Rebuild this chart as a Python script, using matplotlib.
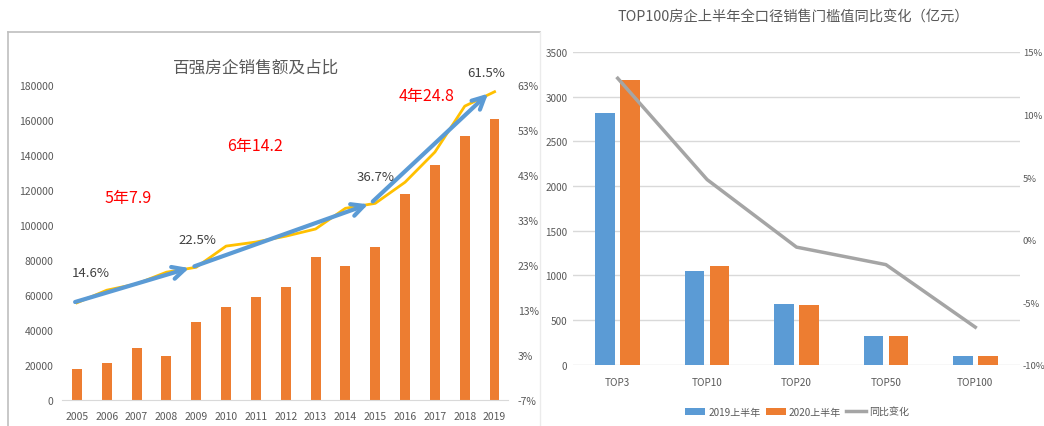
import numpy as np
import matplotlib
matplotlib.use("Agg")
import matplotlib.pyplot as plt
from matplotlib.lines import Line2D

plt.rcParams['font.family'] = ['Noto Sans CJK SC', 'DejaVu Sans']

# 左图：百强房企销售额及占比
years = list(range(2005, 2020))
sales = [17700, 21000, 29900, 25100, 44400, 53000, 59000, 64400,
         81500, 76400, 87600, 117700, 134300, 150700, 160600]
share = [14.6, 17.4, 18.8, 21.4, 22.5, 27.2, 28.1, 29.4,
         31.0, 35.6, 36.7, 41.4, 48.1, 58.3, 61.5]
share_labels = {2005: "14.6%", 2009: "22.5%", 2015: "36.7%", 2019: "61.5%"}
stage_idx = [0, 4, 10, 14]
stage_text = ["5年7.9", "6年14.2", "4年24.8"]

# 右图：TOP门槛值
cats = ["TOP3", "TOP10", "TOP20", "TOP50", "TOP100"]
h2019 = [2820, 1054, 680, 318, 101]
h2020 = [3190, 1106, 672, 318, 100]
yoy = [12.9, 4.8, -0.6, -2.0, -7.0]

BLUE = '#5B9BD5'
ORANGE = '#ED7D31'
GRAY = '#A5A5A5'
TXT = '#595959'

W, H = 1044, 427
fig = plt.figure(figsize=(W / 100, H / 100), dpi=100)

# ---------- 左图 ----------
ax1 = fig.add_axes([62 / W, (H - 401) / H, 446 / W, 315 / H])
ax1.bar(years, sales, width=0.33, color=ORANGE)
ax1.set_xlim(2004.5, 2019.45)
ax1.set_ylim(0, 180000)
ax1.set_yticks(range(0, 180001, 20000))
ax1.set_xticks(years)
for s in ['top', 'right', 'left']:
    ax1.spines[s].set_visible(False)
ax1.spines['bottom'].set_color('#D9D9D9')
ax1.tick_params(length=0, colors=TXT, labelsize=7.5)
ax1.tick_params(axis='y', pad=6)
ax1.tick_params(axis='x', pad=8)

ax1b = ax1.twinx()
ax1b.plot(years, share, color='#FFC000', lw=2)
ax1b.set_ylim(-7, 63)
pticks = list(range(-7, 64, 10))
ax1b.set_yticks(pticks)
ax1b.set_yticklabels([f"{v}%" for v in pticks])
for s in ax1b.spines.values():
    s.set_visible(False)
ax1b.tick_params(length=0, colors=TXT, labelsize=7.5, pad=7)

# 蓝色阶段箭头
for a, b in zip(stage_idx[:-1], stage_idx[1:]):
    ax1b.annotate("", xy=(years[b] - 0.15, share[b]), xytext=(years[a] - 0.15, share[a]),
                  arrowprops=dict(arrowstyle='->', lw=3, color=BLUE, mutation_scale=22))
label_off = [(10, 22), (1, 20), (0, 19), (-6, 14)]
for (y, t), off in zip(share_labels.items(), label_off):
    i = years.index(y)
    ax1b.annotate(t, (y, share[i]), xytext=off, textcoords='offset points',
                  ha='center', va='center', fontsize=9.5, color='#404040')

fig.text(128 / W, 1 - 198 / H, stage_text[0], color='red', fontsize=11.5, ha='center', va='center')
fig.text(255 / W, 1 - 147 / H, stage_text[1], color='red', fontsize=11.5, ha='center', va='center')
fig.text(427 / W, 1 - 96 / H, stage_text[2], color='red', fontsize=11.5, ha='center', va='center')
fig.text(256 / W, 1 - 68 / H, "百强房企销售额及占比", color=TXT, fontsize=12, ha='center', va='center')

# 左图边框
fig.add_artist(Line2D([8 / W, 8 / W], [0, 1 - 33 / H], transform=fig.transFigure, color='#BFBFBF', lw=1.2))
fig.add_artist(Line2D([8 / W, 540 / W], [1 - 33 / H, 1 - 33 / H], transform=fig.transFigure, color='#BFBFBF', lw=1.2))
fig.add_artist(Line2D([540 / W, 540 / W], [0, 1 - 33 / H], transform=fig.transFigure, color='#EBEBEB', lw=1))

# ---------- 右图 ----------
ax2 = fig.add_axes([573 / W, (H - 365.7) / H, 447 / W, 312.7 / H])
x = np.arange(len(cats))
ax2.bar(x - 0.14, h2019, width=0.22, color=BLUE, label='2019上半年', zorder=3)
ax2.bar(x + 0.14, h2020, width=0.22, color=ORANGE, label='2020上半年', zorder=3)
ax2.set_xlim(-0.5, 4.5)
ax2.set_ylim(0, 3500)
ax2.set_yticks(range(0, 3501, 500))
ax2.set_xticks(x)
ax2.set_xticklabels(cats)
ax2.grid(axis='y', color='#D9D9D9', lw=1, zorder=0)
for s in ax2.spines.values():
    s.set_visible(False)
ax2.tick_params(length=0, colors=TXT, labelsize=7.2)
ax2.tick_params(axis='y', pad=4)
ax2.tick_params(axis='x', pad=9)

ax2b = ax2.twinx()
ax2b.plot(x, yoy, color=GRAY, lw=2.5, label='同比变化')
ax2b.set_ylim(-10, 15)
rticks = list(range(-10, 16, 5))
ax2b.set_yticks(rticks)
ax2b.set_yticklabels([f"{v}%" for v in rticks])
for s in ax2b.spines.values():
    s.set_visible(False)
ax2b.tick_params(length=0, colors=TXT, labelsize=6.8, pad=2)

fig.text(793 / W, 1 - 17 / H, "TOP100房企上半年全口径销售门槛值同比变化（亿元）",
         color=TXT, fontsize=10.3, ha='center', va='center')

h1, l1 = ax2.get_legend_handles_labels()
h2, l2 = ax2b.get_legend_handles_labels()
fig.legend(h1 + h2, l1 + l2, loc='center', bbox_to_anchor=(797 / W, 1 - 413 / H),
           ncol=3, frameon=False, fontsize=7.2, labelcolor=TXT,
           handlelength=2.0, handleheight=0.8, columnspacing=0.5, handletextpad=0.3)

fig.savefig("out.png", dpi=100)
